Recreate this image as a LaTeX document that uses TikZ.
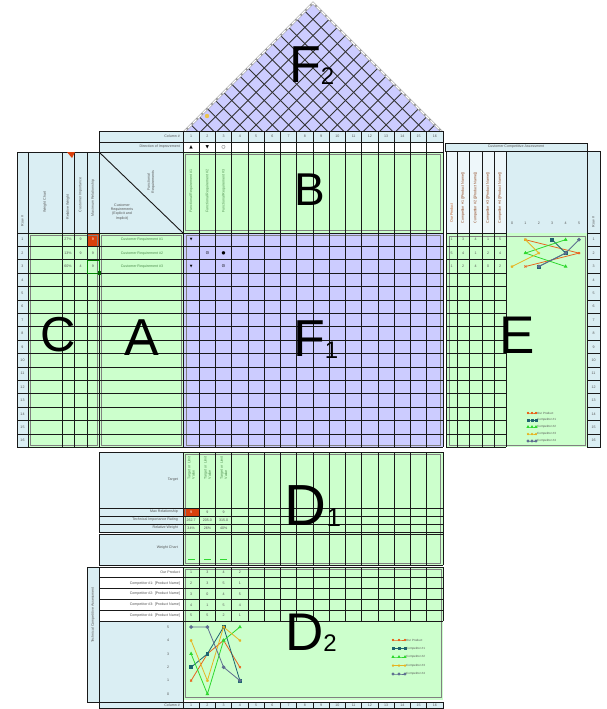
\documentclass[tikz,border=0pt]{standalone}
\usepackage{fontspec}
\setmainfont{Liberation Sans}
\newfontfamily\symf{DejaVu Sans}
\usetikzlibrary{plotmarks}
\definecolor{hdr}{HTML}{DAEEF3}
\definecolor{grn}{HTML}{CCFFCC}
\definecolor{blu}{HTML}{CCCCFF}
\definecolor{redc}{HTML}{D9400C}
\definecolor{cOur}{HTML}{E8641E}
\definecolor{cCa}{HTML}{1E6470}
\definecolor{cCb}{HTML}{2ED82E}
\definecolor{cCc}{HTML}{E6B422}
\definecolor{cCd}{HTML}{5E6E90}
\definecolor{txtc}{HTML}{555555}
\definecolor{gtxt}{HTML}{4C8C4C}
\newcommand\tinyf{\fontsize{3.6}{4.2}\selectfont}
\newcommand\bigf[1]{\fontsize{#1}{#1}\selectfont}
\begin{document}
\begin{tikzpicture}[x=1pt,y=-1pt,
  gl/.style={black!90, line width=0.9pt},
  cell/.style={draw=black!90, line width=0.9pt},
  hcell/.style={cell, fill=hdr},
  wcell/.style={cell, fill=white},
  frm/.style={draw=black!50, line width=1pt},
  roofline/.style={draw=black!80, line width=0.85pt},
  lbl/.style={inner sep=0pt, font=\tinyf, text=txtc},
  sym/.style={inner sep=0pt, font=\symf\fontsize{4.5}{5}\selectfont},
  bigl/.style={inner sep=0pt, anchor=base west},
  ser/.style={line width=0.8pt, mark size=1.4pt},
]
\useasboundingbox (0,0) rectangle (606,709);

% ================= ROOF (F2) =================
\fill[blu] (183,133) -- (313,3) -- (443,133) -- cycle;
\begin{scope}
  \clip (183,133) -- (313,3) -- (443,133) -- cycle;
  \foreach \i in {1,...,15}{
    \draw[roofline] ({183+16.25*\i},133) -- ++(-140,-140);
    \draw[roofline] ({183+16.25*\i},133) -- ++(140,-140);
  }
\end{scope}
\draw[black!40, line width=2.4pt] (183,133) -- (313,3) -- (443,133);
\draw[white, line width=1.1pt, dash pattern=on 5pt off 2pt] (183,133) -- (313,3) -- (443,133);
\fill[cCc!80] (207,116) circle (2.2);
\node[bigl] (F2) at (289,82) {\bigf{52}F\raisebox{-2pt}{\bigf{24}2}};

% ================= COLUMN # / DIRECTION ROWS =================
\draw[hcell] (99,131) rectangle (183,142);
\node[lbl, anchor=east] (colhdr) at (180,136.5) {Column \#};
\draw[hcell] (99,142) rectangle (183,152);
\node[lbl, anchor=east] (dirhdr) at (180,147) {Direction of Improvement};
\foreach \i in {1,...,16}{
  \draw[hcell] ({183+16.25*(\i-1)},131) rectangle ({183+16.25*\i},142);
  \node[lbl] at ({183+16.25*(\i-0.5)},136.5) {\i};
  \draw[wcell] ({183+16.25*(\i-1)},142) rectangle ({183+16.25*\i},152);
}
\node[sym] (d1) at (191.1,147) {▲};
\node[sym] (d2) at (207.4,147) {▼};
\node[sym] (d3) at (223.6,147) {○};

% ================= B =================
\fill[grn] (183,152) rectangle (443,233);
\draw[frm] (185.5,154.5) rectangle (440.5,230.5);
\foreach \i in {0,...,16}{
  \draw[gl] ({183+16.25*\i},152) -- ({183+16.25*\i},233);
}
\draw[gl] (183,152) -- (443,152);
\foreach \i in {1,2,3}{
  \node[lbl, rotate=90, text=gtxt] at ({183+16.25*(\i-0.5)},191) {Functional Requirement \#\i};
}
\node[bigl] (B) at (294,205) {\bigf{46}B};

% ================= LEFT HEADER =================
\foreach \a/\b in {17/28,28/62,62/74,74/87,87/99}{
  \draw[hcell] (\a,152) rectangle (\b,233);
}
\fill[redc] (67,152) -- (75,152) -- (72,158) -- cycle;
\node[lbl, rotate=90] at (22.5,221) {Row \#};
\node[lbl, rotate=90] at (45,202) {Weight Chart};
\node[lbl, rotate=90] at (68,207) {Relative Weight};
\node[lbl, rotate=90] at (80.5,195) {Customer Importance};
\node[lbl, rotate=90] at (93,198) {Maximum Relationship};
\draw[hcell] (99,152) rectangle (183,233);
\draw[gl] (99,152) -- (183,233);
\node[lbl, rotate=90, align=center] at (151,182) {Functional\\Requirements};
\node[lbl, align=center] at (122,212) {Customer\\Requirements\\(Explicit and\\Implicit)};

% ================= C and A =================
\fill[grn] (28,233) rectangle (99,447.4);
\fill[grn] (99,233) rectangle (183,447.4);
\fill[redc] (87,233) rectangle (99,246.4);
\draw[frm] (30,235.5) rectangle (97,445);
\draw[frm] (101.5,235.5) rectangle (181,445);
\foreach \n in {1,...,16}{
  \draw[hcell] (17,{233+13.4*(\n-1)}) rectangle (28,{233+13.4*\n});
  \node[lbl] at (22.5,{233+13.4*(\n-0.5)}) {\n};
}
\foreach \n in {0,...,16}{
  \draw[gl] (17,{233+13.4*\n}) -- (183,{233+13.4*\n});
}
\foreach \x in {17,28,62,74,87,99}{
  \draw[gl] (\x,233) -- (\x,447.4);
}
\node[lbl] at (68,239.7) {27\%};  \node[lbl] at (80.5,239.7) {9};  \node[lbl, text=white] at (93,239.7) {9};
\node[lbl] at (68,253.1) {13\%};  \node[lbl] at (80.5,253.1) {9};  \node[lbl] at (93,253.1) {9};
\node[lbl] at (68,266.5) {60\%};  \node[lbl] at (80.5,266.5) {4};  \node[lbl] at (93,266.5) {9};
\draw[green!50!black, line width=1pt] (87,260) rectangle (99,273.5);
\fill[green!40!black] (97.5,271) rectangle (100.5,274.5);
\foreach \n in {1,2,3}{
  \node[lbl, text=gtxt] at (142,{233+13.4*(\n-0.5)}) {Customer Requirement \#\n};
}
\node[bigl] (C) at (40.5,351) {\bigf{49}C};
\node[bigl] (A) at (124,355) {\bigf{52}A};

% ================= F1 =================
\fill[blu] (183,233) rectangle (443,447.4);
\draw[frm] (186,235.5) rectangle (440.5,445);
\foreach \i in {0,...,16}{
  \draw[gl] ({183+16.25*\i},233) -- ({183+16.25*\i},447.4);
}
\foreach \n in {0,...,16}{
  \draw[gl] (183,{233+13.4*\n}) -- (443,{233+13.4*\n});
}
\node[sym, font=\symf\fontsize{3.5}{4}\selectfont] (r11) at (191.1,239.7) {▼};
\node[sym] (r22) at (207.4,253.1) {⊙};
\node[sym] (r23) at (223.6,253.1) {●};
\node[sym, font=\symf\fontsize{3.5}{4}\selectfont] (r31) at (191.1,266.5) {▼};
\node[sym] (r33) at (223.6,266.5) {⊙};
\node[bigl] (F1) at (293,356) {\bigf{52}F\raisebox{-2pt}{\bigf{24}1}};

% ================= E =================
\draw[hcell] (445,143) rectangle (587,151);
\node[lbl] (cca) at (516,147) {Customer Competitive Assessment};
\foreach \a/\b in {446/457,457/469,469/482,482/494,494/506}{
  \draw[cell, fill=hdr!45] (\a,151) rectangle (\b,233);
}
\draw[hcell] (506,151) rectangle (587,233);
\draw[hcell] (587,151) rectangle (600,233);
\node[lbl, rotate=90, text=cOur!80!black] at (451.5,213) {Our Product};
\foreach \x/\k in {463/1,475.5/2,488/3,500/4}{
  \node[lbl, rotate=90, text=cOur!60!black] at (\x,198) {Competitor \#\k\ ([Product Name])};
}
\foreach \v in {0,...,5}{
  \node[lbl] at ({512+13.4*\v},223) {\v};
}
\node[lbl, rotate=90] at (593.5,222) {Row \#};
\fill[grn] (446,233) rectangle (587,447.4);
\draw[frm] (449,236) rectangle (585,445);
\foreach \x in {446,457,469,482,494,506}{
  \draw[gl] (\x,233) -- (\x,447.4);
}
\foreach \n in {0,...,16}{
  \draw[gl] (446,{233+13.4*\n}) -- (506,{233+13.4*\n});
}
\foreach \n in {1,...,16}{
  \draw[hcell] (587,{233+13.4*(\n-1)}) rectangle (600,{233+13.4*\n});
  \node[lbl] at (593.5,{233+13.4*(\n-0.5)}) {\n};
}
\foreach \a/\b/\c/\d/\e [count=\r] in {1/3/4/1/5,5/4/1/2/4,1/2/4/0/2}{
  \node[lbl] at (451.5,{233+13.4*(\r-0.5)}) {\a};
  \node[lbl] at (463,{233+13.4*(\r-0.5)}) {\b};
  \node[lbl] at (475.5,{233+13.4*(\r-0.5)}) {\c};
  \node[lbl] at (488,{233+13.4*(\r-0.5)}) {\d};
  \node[lbl] at (500,{233+13.4*(\r-0.5)}) {\e};
}
\draw[ser, cOur] plot[mark=x] coordinates {(525.4,239.7) (579,253.1) (525.4,266.5)};
\draw[ser, cCa] plot[mark=square*] coordinates {(552.2,239.7) (565.6,253.1) (538.8,266.5)};
\draw[ser, cCb] plot[mark=triangle*] coordinates {(565.6,239.7) (525.4,253.1) (565.6,266.5)};
\draw[ser, cCc] plot[mark=star] coordinates {(525.4,239.7) (538.8,253.1) (512,266.5)};
\draw[ser, cCd] plot[mark=*] coordinates {(579,239.7) (565.6,253.1) (538.8,266.5)};
\foreach \c/\m/\t [count=\k] in {cOur/x/Our Product,cCa/square*/Competitor \#1,cCb/triangle*/Competitor \#2,cCc/star/Competitor \#3,cCd/*/Competitor \#4}{
  \draw[ser, \c, mark size=1.1pt] plot[mark=\m] coordinates {(528,{406+7*\k}) (532,{406+7*\k}) (536,{406+7*\k})};
  \node[lbl, anchor=west, font=\fontsize{3}{3.5}\selectfont] at (537,{406+7*\k}) {\t};
}
\node[bigl] (E) at (499,353) {\bigf{53}E};

% ================= D1 =================
\draw[hcell] (99,452) rectangle (183,508);
\node[lbl, anchor=east] at (178,480) {Target};
\draw[hcell] (99,508) rectangle (183,516);
\node[lbl, anchor=east] at (178,512) {Max Relationship};
\draw[hcell] (99,516) rectangle (183,524);
\node[lbl, anchor=east] at (178,520) {Technical Importance Rating};
\draw[hcell] (99,524) rectangle (183,532);
\node[lbl, anchor=east] at (178,528) {Relative Weight};
\draw[hcell] (99,534) rectangle (183,565);
\node[lbl, anchor=east] at (178,548) {Weight Chart};
\fill[grn] (183,452) rectangle (443,565);
\fill[redc] (183,508) rectangle (199.25,516);
\draw[frm] (185.5,454.5) rectangle (440.5,563);
\foreach \i in {0,...,16}{
  \draw[gl] ({183+16.25*\i},452) -- ({183+16.25*\i},565);
}
\foreach \y in {452,508,516,524,532,534,565}{
  \draw[gl] (99,\y) -- (443,\y);
}
\foreach \i in {1,2,3}{
  \node[lbl, rotate=90, anchor=east, align=left, text=gtxt] at ({183+16.25*(\i-0.5)},456) {Target or Limit\\Value};
  \fill[cCb] ({183+16.25*(\i-0.5)-3.5},558.5) rectangle ({183+16.25*(\i-0.5)+3.5},560);
}
\node[lbl, text=white] at (191.1,512) {9}; \node[lbl] at (207.4,512) {9}; \node[lbl] at (223.6,512) {9};
\node[lbl] at (191.1,520) {262.7}; \node[lbl] at (207.4,520) {205.0}; \node[lbl] at (223.6,520) {315.0};
\node[lbl] at (191.1,528) {34\%}; \node[lbl] at (207.4,528) {26\%}; \node[lbl] at (223.6,528) {40\%};
\node[bigl] (D1) at (284.5,525) {\bigf{58}D\raisebox{-1pt}{\bigf{26}1}};

% ================= D2 =================
\draw[gl] (99,567) -- (443,567);
\draw[hcell] (87,567) rectangle (99,702);
\node[lbl, rotate=90] at (93,615) {Technical Competitive Assessment};
\fill[grn] (183,567) rectangle (443,700);
\draw[frm] (185,569) rectangle (441,697.5);
\foreach \t [count=\n] in {Our Product,Competitor \#1: [Product Name],Competitor \#2: [Product Name],Competitor \#3: [Product Name],Competitor \#4: [Product Name]}{
  \draw[wcell] (99,{567+10.8*(\n-1)}) rectangle (183,{567+10.8*\n});
  \node[lbl, anchor=east] at (180,{567+10.8*(\n-0.5)}) {\t};
}
\foreach \i in {0,...,16}{
  \draw[gl] ({183+16.25*\i},567) -- ({183+16.25*\i},621);
}
\foreach \n in {0,...,5}{
  \draw[gl] (183,{567+10.8*\n}) -- (443,{567+10.8*\n});
}
\foreach \a/\b/\c/\d [count=\r] in {1/3/4/2,2/3/5/1,3/0/4/5,4/1/5/4,5/5/2/1}{
  \node[lbl] at (191.1,{567+10.8*(\r-0.5)}) {\a};
  \node[lbl] at (207.4,{567+10.8*(\r-0.5)}) {\b};
  \node[lbl] at (223.6,{567+10.8*(\r-0.5)}) {\c};
  \node[lbl] at (239.9,{567+10.8*(\r-0.5)}) {\d};
}
\draw[hcell] (99,621) rectangle (183,702);
\foreach \v in {0,...,5}{
  \node[lbl] at (168,{694-13.4*\v}) {\v};
}
\draw[ser, cOur] plot[mark=x] coordinates {(191.1,680.6) (207.4,653.8) (223.6,640.4) (239.9,667.2)};
\draw[ser, cCa] plot[mark=square*] coordinates {(191.1,667.2) (207.4,653.8) (223.6,627) (239.9,680.6)};
\draw[ser, cCb] plot[mark=triangle*] coordinates {(191.1,653.8) (207.4,694) (223.6,640.4) (239.9,627)};
\draw[ser, cCc] plot[mark=star] coordinates {(191.1,640.4) (207.4,680.6) (223.6,627) (239.9,640.4)};
\draw[ser, cCd] plot[mark=*] coordinates {(191.1,627) (207.4,627) (223.6,667.2) (239.9,680.6)};
\foreach \c/\m/\t [count=\k] in {cOur/x/Our Product,cCa/square*/Competitor \#1,cCb/triangle*/Competitor \#2,cCc/star/Competitor \#3,cCd/*/Competitor \#4}{
  \draw[ser, \c, mark size=1.1pt] plot[mark=\m] coordinates {(393,{631.5+8.5*\k}) (399,{631.5+8.5*\k}) (405,{631.5+8.5*\k})};
  \node[lbl, anchor=west, font=\fontsize{3}{3.5}\selectfont] at (406,{631.5+8.5*\k}) {\t};
}
\node[bigl] (D2) at (285,650) {\bigf{53}D\raisebox{-1pt}{\bigf{24}2}};

% ================= BOTTOM COLUMN # =================
\draw[hcell] (99,702.5) rectangle (183,708.6);
\node[lbl, anchor=east] at (180,705.5) {Column \#};
\foreach \i in {1,...,16}{
  \draw[hcell] ({183+16.25*(\i-1)},702.5) rectangle ({183+16.25*\i},708.6);
  \node[lbl] at ({183+16.25*(\i-0.5)},705.5) {\i};
}
\end{tikzpicture}
\end{document}
